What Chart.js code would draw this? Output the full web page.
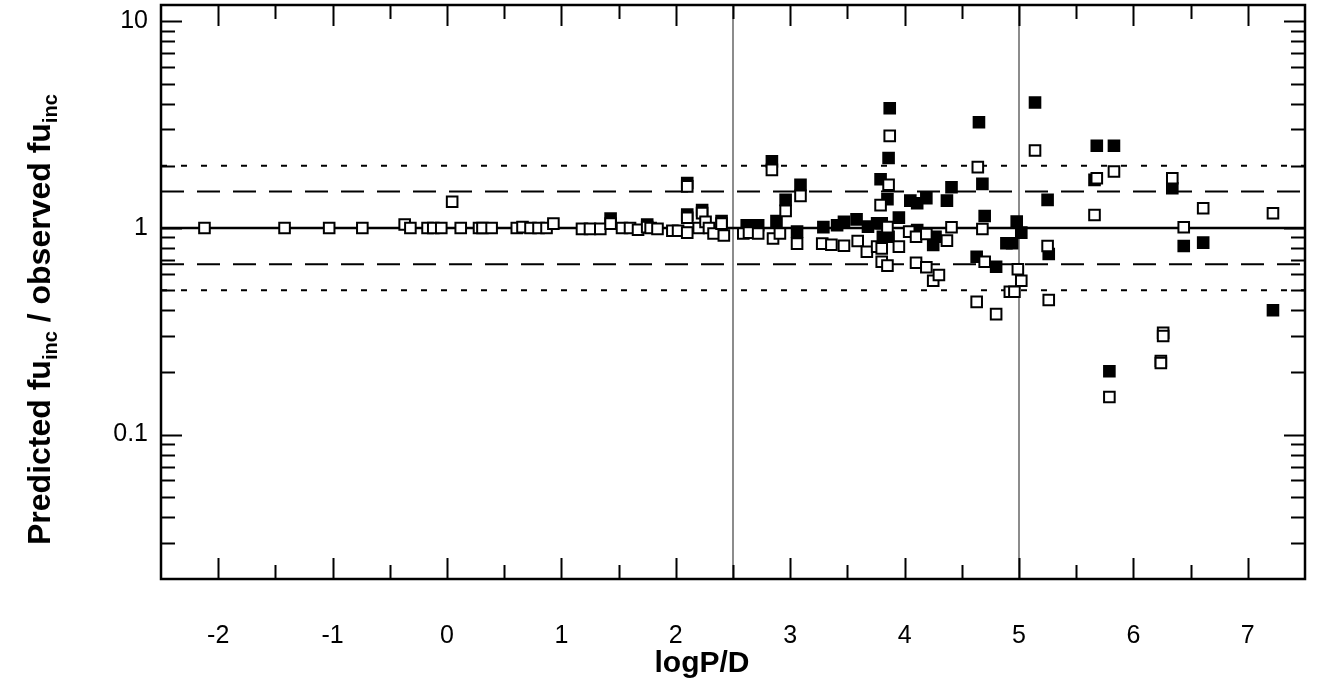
<!DOCTYPE html>
<html><head><meta charset="utf-8">
<script src="https://cdn.jsdelivr.net/npm/chart.js@4/dist/chart.umd.min.js"></script>
<style>html,body{margin:0;padding:0;background:#fff;}#wrap{width:1320px;height:694px;position:relative;}</style>
</head><body><div id="wrap"><canvas id="c"></canvas></div>
<script>
// ---- data ----
const openX = [-2.12,-1.42,-1.03,-0.74,-0.37,-0.32,-0.17,-0.12,-0.05,0.045,0.12,0.28,0.31,0.39,0.61,0.66,0.73,0.80,0.87,0.93,
  1.18,1.25,1.34,1.43,1.53,1.60,1.67,1.75,1.78,1.84,1.97,2.02,2.10,2.10,2.10,2.20,2.23,2.26,2.29,2.33,2.40,2.42,
  2.59,2.64,2.72,2.84,2.85,2.91,2.96,3.06,3.09,3.28,3.36,3.47,3.59,3.67,3.76,3.79,3.80,3.80,3.85,3.85,3.86,3.87,3.95,
  4.04,4.10,4.10,4.19,4.19,4.25,4.30,4.37,4.41,4.63,4.64,4.68,4.70,4.80,4.92,4.96,4.99,5.02,
  5.14,5.25,5.26,5.66,5.68,5.79,5.83,6.24,6.24,6.26,6.26,6.34,6.44,6.61,7.22];
const openY = [1.0,1.0,1.0,1.0,1.04,1.0,1.0,1.0,1.0,1.34,1.0,1.0,1.0,1.0,1.0,1.01,1.0,1.0,1.0,1.05,
  0.99,0.99,0.99,1.05,1.0,1.0,0.98,1.01,1.0,0.99,0.97,0.97,1.59,1.12,0.95,1.0,1.18,1.07,1.0,0.94,1.05,0.92,
  0.94,0.95,0.94,1.91,0.89,0.94,1.21,0.84,1.43,0.84,0.83,0.82,0.865,0.767,0.812,1.29,0.797,0.686,1.01,0.657,1.62,2.79,0.812,
  0.96,0.907,0.679,0.935,0.645,0.555,0.592,0.868,1.008,0.439,1.97,0.989,0.686,0.383,0.491,0.491,0.631,0.555,
  2.37,0.818,0.448,1.156,1.74,0.152,1.875,0.227,0.222,0.311,0.300,1.74,1.008,1.246,1.178];
const filledX = [1.43,1.75,2.10,2.10,2.23,2.40,
  2.62,2.72,2.84,2.88,2.96,3.06,3.09,3.29,3.41,3.47,3.58,3.68,3.76,3.79,3.80,3.81,3.85,3.86,3.86,3.87,3.95,
  4.05,4.11,4.11,4.19,4.25,4.27,4.37,4.41,4.63,4.65,4.68,4.70,4.80,4.89,4.94,4.98,5.02,
  5.14,5.25,5.26,5.66,5.68,5.79,5.83,6.34,6.44,6.61,7.22];
const filledY = [1.11,1.04,1.65,1.16,1.22,1.08,
  1.03,1.03,2.10,1.08,1.367,0.96,1.616,1.01,1.03,1.07,1.10,1.015,1.054,1.72,1.054,0.907,1.378,2.18,0.907,3.80,1.122,
  1.356,1.317,0.978,1.393,0.827,0.907,1.356,1.575,0.726,3.25,1.634,1.143,0.649,0.843,0.843,1.073,0.949,
  4.05,1.367,0.748,1.71,2.50,0.2026,2.50,1.557,0.818,0.849,0.40];
const refSolid = [1];
const refDashed = [1.5, 0.667];
const refDotted = [2, 0.5];
const vLines = [2.5, 5];
const xTickValues = [-2,-1,0,1,2,3,4,5,6,7];
const xTickLabels = ['-2','-1','0','1','2','3','4','5','6','7'];
const yTickValues = [0.1, 1, 10];
const yTickLabels = ['0.1','1','10'];
const xRange = [-2.5, 7.5];
const yRange = [0.02, 12];
const xTitle = 'logP/D';
const yTitleParts = [['Predicted fu', false], ['inc', true], [' / observed fu', false], ['inc', true]];

// ---- build ----
const FONT = "'Liberation Sans', Arial, sans-serif";
const pts = (xs, ys) => xs.map((x, i) => ({x, y: ys[i]}));
const datasets = [];
datasets.push({label:'open', data: pts(openX, openY), pointStyle:'rect', pointRadius:7.5, pointHoverRadius:7.5,
  backgroundColor:'#fff', borderColor:'#000', borderWidth:2, order:0});
datasets.push({label:'filled', data: pts(filledX, filledY), pointStyle:'rect', pointRadius:7.5, pointHoverRadius:7.5,
  backgroundColor:'#000', borderColor:'#000', borderWidth:2, order:1});
const hline = (lvl, width, dash) => ({type:'line', showLine:true, data:[{x:xRange[0],y:lvl},{x:xRange[1],y:lvl}],
  borderColor:'#000', borderWidth:width, borderDash:dash, pointRadius:0, order:5, fill:false});
refSolid.forEach(l => datasets.push(hline(l, 2.5, [])));
refDashed.forEach(l => datasets.push(hline(l, 2, [23, 13])));
refDotted.forEach(l => datasets.push(hline(l, 2, [6, 14])));
vLines.forEach(v => datasets.push({type:'line', showLine:true, data:[{x:v,y:yRange[0]},{x:v,y:yRange[1]}],
  borderColor:'#8c8c8c', borderWidth:2, pointRadius:0, order:6, fill:false}));

const framePlugin = {
  id:'frame',
  afterDatasetsDraw(chart) {
    const {ctx, chartArea:{left,right,top,bottom}, scales:{x,y}} = chart;
    ctx.save();
    ctx.strokeStyle = '#000';
    ctx.lineWidth = 2;
    ctx.beginPath();
    const MAJ = 21, MIN = 14;
    for (let v = Math.ceil(xRange[0]*2)/2; v <= xRange[1]; v += 0.5) {
      if (v <= xRange[0] || v >= xRange[1]) continue;
      const px = Math.round(x.getPixelForValue(v)) + 0.5;
      const len = Number.isInteger(v) ? MAJ : MIN;
      ctx.moveTo(px, bottom); ctx.lineTo(px, bottom - len);
      ctx.moveTo(px, top); ctx.lineTo(px, top + len);
    }
    [0.01, 0.1, 1, 10].forEach(dec => {
      for (let k = 1; k <= 9; k++) {
        const v = k * dec;
        if (v <= yRange[0] || v >= yRange[1]) continue;
        const py = Math.round(y.getPixelForValue(v)) + 0.5;
        const len = k === 1 ? MAJ : MIN;
        ctx.moveTo(left, py); ctx.lineTo(left + len, py);
        ctx.moveTo(right, py); ctx.lineTo(right - len, py);
      }
    });
    ctx.stroke();
    ctx.lineWidth = 2.5;
    ctx.strokeRect(left, top, right - left, bottom - top);
    ctx.restore();
  },
  afterDraw(chart) {
    const {ctx} = chart;
    ctx.save();
    ctx.fillStyle = '#000';
    ctx.font = 'bold 30px ' + FONT;
    ctx.textAlign = 'center';
    ctx.textBaseline = 'middle';
    ctx.fillText(xTitle, 702, 664);
    // y title
    ctx.translate(50, 545);
    ctx.rotate(-Math.PI / 2);
    ctx.textAlign = 'left';
    ctx.textBaseline = 'alphabetic';
    let cx = 0;
    yTitleParts.forEach(([t, sub]) => {
      ctx.font = (sub ? 'bold 20px ' : 'bold 32px ') + FONT;
      ctx.fillText(t, cx, sub ? 7 : 0);
      cx += ctx.measureText(t).width;
    });
    ctx.restore();
  }
};

new Chart(document.getElementById('c'), {
  type:'scatter',
  data:{datasets},
  options:{
    responsive:true, maintainAspectRatio:false, animation:false,
    layout:{autoPadding:false, padding:{left:0, right:15, top:5, bottom:0}},
    plugins:{legend:{display:false}, tooltip:{enabled:false}},
    scales:{
      x:{type:'linear', min:xRange[0], max:xRange[1],
        afterBuildTicks:s => { s.ticks = xTickValues.map(v => ({value:v})); },
        afterFit:s => { s.height = 115; s.paddingLeft = 0; s.paddingRight = 0; },
        ticks:{font:{family:FONT, size:25}, color:'#000', padding:42, maxRotation:0, autoSkip:false,
          callback:(v, i) => xTickLabels[i]},
        grid:{display:false, drawTicks:false}, border:{display:false}},
      y:{type:'logarithmic', min:yRange[0], max:yRange[1],
        afterBuildTicks:s => { s.ticks = yTickValues.map(v => ({value:v})); },
        afterFit:s => { s.width = 161; s.paddingTop = 0; s.paddingBottom = 0; },
        ticks:{font:{family:FONT, size:25}, color:'#000', padding:13, autoSkip:false,
          callback:(v, i) => yTickLabels[i]},
        grid:{display:false, drawTicks:false}, border:{display:false}}
    }
  },
  plugins:[framePlugin]
});
</script></body></html>
